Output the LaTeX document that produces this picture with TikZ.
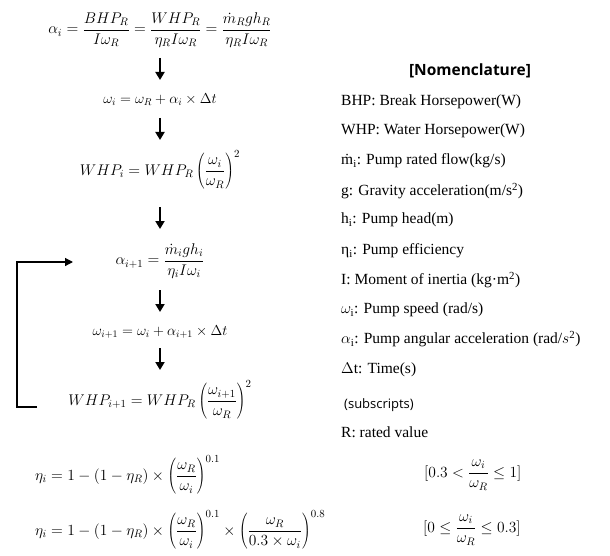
\RequirePackage{fix-cm}
\documentclass[tikz,border=0pt]{standalone}
\usepackage{fontspec}
\setmainfont{Liberation Serif}
\newfontfamily\headfont{Open Sans}
\usetikzlibrary{arrows.meta,calc}
\tikzset{
  eq/.style={inner sep=0pt, font=\fontsize{15.5}{18}\selectfont},
  eqs/.style={inner sep=0pt, font=\fontsize{14.4}{17}\selectfont},
  nom/.style={anchor=west, inner sep=0pt, font=\fontsize{15.5}{18}\selectfont},
  dnarrow/.style={line width=1.8pt, -{Triangle[width=9pt,length=8pt]}},
  fbline/.style={line width=1.2pt, -{Triangle[width=8pt,length=8pt]}},
}
\begin{document}
\begin{tikzpicture}[x=1pt,y=-1pt]
\useasboundingbox (0,0) rectangle (610,556);
% flow chain
\node[eq] (e1) at (160,30) {$\displaystyle \alpha_i=\frac{BHP_R}{I\omega_R}=\frac{WHP_R}{\eta_R I\omega_R}=\frac{\dot m_R g h_R}{\eta_R I\omega_R}$};
\node[eqs] (e2) at (160,100) {$\omega_i=\omega_R+\alpha_i\times\Delta t$};
\node[eq] (e3) at (160,170) {$\displaystyle WHP_i=WHP_R\left(\frac{\omega_i}{\omega_R}\right)^{2}$};
\node[eq] (e4) at (160,261) {$\displaystyle \alpha_{i+1}=\frac{\dot m_i g h_i}{\eta_i I\omega_i}$};
\node[eqs] (e5) at (160,332) {$\omega_{i+1}=\omega_i+\alpha_{i+1}\times\Delta t$};
\node[eq] (e6) at (160,400) {$\displaystyle WHP_{i+1}=WHP_R\left(\frac{\omega_{i+1}}{\omega_R}\right)^{2}$};
% arrows
\coordinate (a1s) at (160,58);  \coordinate (a1e) at (160,80);
\coordinate (a2s) at (160,118); \coordinate (a2e) at (160,140);
\coordinate (a3s) at (160,207); \coordinate (a3e) at (160,229);
\coordinate (a4s) at (160,290); \coordinate (a4e) at (160,312);
\coordinate (a5s) at (160,348); \coordinate (a5e) at (160,370);
\draw[dnarrow] (a1s) -- (a1e);
\draw[dnarrow] (a2s) -- (a2e);
\draw[dnarrow] (a3s) -- (a3e);
\draw[dnarrow] (a4s) -- (a4e);
\draw[dnarrow] (a5s) -- (a5e);
% feedback loop
\coordinate (fbA) at (37,407);
\coordinate (fbB) at (17,407);
\coordinate (fbC) at (73,262);
\draw[fbline] (fbA) -- (fbB) |- (fbC);
% nomenclature
\node[inner sep=0pt, font=\headfont\bfseries\fontsize{15.5}{18}\selectfont] (nh) at (470,71) {[Nomenclature]};
\node[nom] (n1) at (341,102) {BHP: Break Horsepower(W)};
\node[nom] (n2) at (341,131) {WHP: Water Horsepower(W)};
\node[nom] (n3) at (341,161) {ṁ\textsubscript{i}: Pump rated flow(kg/s)};
\node[nom] (n4) at (341,191) {g: Gravity acceleration(m/s\textsuperscript{2})};
\node[nom] (n5) at (341,220) {h\textsubscript{i}: Pump head(m)};
\node[nom] (n6) at (341,251) {η\textsubscript{i}: Pump efficiency};
\node[nom] (n7) at (341,280) {I: Moment of inertia (kg·m\textsuperscript{2})};
\node[nom] (n8) at (341,310) {$\omega_{\mathrm{i}}$: Pump speed (rad/s)};
\node[nom] (n9) at (341,339) {$\alpha_{\mathrm{i}}$: Pump angular acceleration (rad/$s$\textsuperscript{2})};
\node[nom] (n10) at (341,370) {$\Delta$t: Time(s)};
\node[nom, font=\headfont\fontsize{13}{15}\selectfont] (n11) at (344,405) {(subscripts)};
\node[nom] (n12) at (341,432) {R: rated value};
% efficiency
\node[eq, anchor=west] (b1) at (35,475) {$\displaystyle \eta_i=1-(1-\eta_R)\times\left(\frac{\omega_R}{\omega_i}\right)^{0.1}$};
\node[eq, anchor=west] (b2) at (35,530) {$\displaystyle \eta_i=1-(1-\eta_R)\times\left(\frac{\omega_R}{\omega_i}\right)^{0.1}\times\left(\frac{\omega_R}{0.3\times\omega_i}\right)^{0.8}$};
\node[eq, anchor=west] (c1) at (424,475) {$\displaystyle [0.3<\frac{\omega_i}{\omega_R}\le 1]$};
\node[eq, anchor=west] (c2) at (423,530) {$\displaystyle [0\le\frac{\omega_i}{\omega_R}\le 0.3]$};
\end{tikzpicture}
\end{document}
